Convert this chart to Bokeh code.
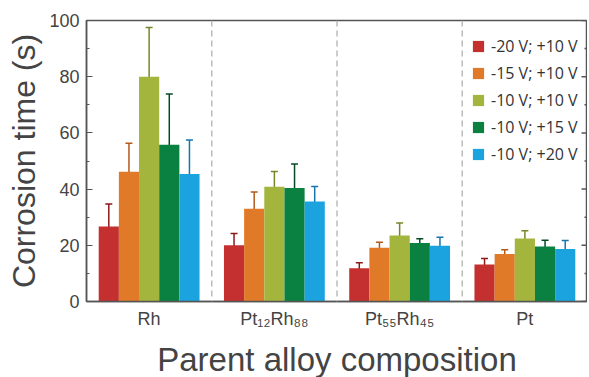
from bokeh.plotting import figure
from bokeh.models import (ColumnDataSource, Whisker, TeeHead, Span,
                          FixedTicker, Legend, LegendItem, Range1d)
from bokeh.embed import file_html
from bokeh.resources import INLINE

categories = ["Rh", "Pt₁₂Rh₈₈", "Pt₅₅Rh₄₅", "Pt"]
series = ["-20 V; +10 V", "-15 V; +10 V", "-10 V; +10 V", "-10 V; +15 V", "-10 V; +20 V"]
values = {
    "-20 V; +10 V": [26.7, 20.0, 11.8, 13.2],
    "-15 V; +10 V": [46.2, 33.0, 19.1, 16.9],
    "-10 V; +10 V": [80.0, 40.8, 23.5, 22.4],
    "-10 V; +15 V": [55.8, 40.4, 20.8, 19.6],
    "-10 V; +20 V": [45.4, 35.6, 19.8, 18.7],
}
errors = {
    "-20 V; +10 V": [8.0, 4.2, 2.0, 2.1],
    "-15 V; +10 V": [10.1, 6.0, 2.0, 1.5],
    "-10 V; +10 V": [17.5, 5.5, 4.4, 2.8],
    "-10 V; +15 V": [18.0, 8.5, 1.5, 2.2],
    "-10 V; +20 V": [12.1, 5.3, 3.1, 3.0],
}
y_ticks = [0, 20, 40, 60, 80, 100]
y_minor = [10, 30, 50, 70, 90]
bar_colors = ["#c3302f", "#e07a29", "#a4b53d", "#0a8140", "#1aa3de"]
err_colors = ["#8b1a1a", "#b5591c", "#76872a", "#064a24", "#1676ad"]

FW, FH = 501, 281
bar_w = 0.161
offsets = [-2 * bar_w, -bar_w, 0.0, bar_w, 2 * bar_w]
x_end = len(categories)

p = figure(output_backend="svg", toolbar_location=None,
           frame_width=FW, frame_height=FH,
           min_border_left=86, min_border_top=20, min_border_bottom=74,
           min_border_right=0,
           x_range=Range1d(0, x_end), y_range=Range1d(0, 100))
p.outline_line_color = "#555555"
p.outline_line_width = 1.5
p.xgrid.visible = False
p.ygrid.visible = False

items = []
for k, s in enumerate(series):
    xs = [i + 0.5 + offsets[k] for i in range(len(categories))]
    v = values[s]
    e = errors[s]
    src = ColumnDataSource(dict(x=xs, top=v,
                                upper=[a + b for a, b in zip(v, e)],
                                lower=[a - b for a, b in zip(v, e)]))
    r = p.vbar(x="x", top="top", width=bar_w, bottom=0, source=src,
               fill_color=bar_colors[k], line_color=None)
    w = Whisker(base="x", upper="upper", lower="lower", source=src,
                line_color=err_colors[k], line_width=1.5,
                upper_head=TeeHead(size=7, line_color=err_colors[k], line_width=1.5),
                lower_head=TeeHead(size=7, line_color=err_colors[k], line_width=1.5))
    p.add_layout(w)
    items.append(LegendItem(label=s, renderers=[r]))

for i in range(1, len(categories)):
    p.add_layout(Span(location=i, dimension="height", line_color="#bbbbbb",
                      line_width=1.5, line_dash="6 4"))

# inward ticks on the right frame edge
major_len = 6 / FW * x_end
minor_len = 3 / FW * x_end
p.segment(x0=[x_end] * len(y_ticks), x1=[x_end - major_len] * len(y_ticks),
          y0=y_ticks, y1=y_ticks, line_color="#555555", line_width=1.5)
p.segment(x0=[x_end] * len(y_minor), x1=[x_end - minor_len] * len(y_minor),
          y0=y_minor, y1=y_minor, line_color="#555555", line_width=1.5)

# axes
yax = p.yaxis[0]
yax.ticker = FixedTicker(ticks=y_ticks, minor_ticks=y_minor)
yax.major_tick_in = 6
yax.major_tick_out = 0
yax.minor_tick_in = 3
yax.minor_tick_out = 0
yax.axis_line_color = "#555555"
yax.axis_line_width = 1.5
yax.major_tick_line_color = "#555555"
yax.minor_tick_line_color = "#555555"
yax.major_label_text_font = "Liberation Sans"
yax.major_label_text_font_size = "18px"
yax.major_label_text_color = "#444444"
yax.major_label_standoff = 7
yax.axis_label = "Corrosion time (s)"
yax.axis_label_text_font = "Liberation Sans"
yax.axis_label_text_font_size = "32px"
yax.axis_label_text_font_style = "normal"
yax.axis_label_text_color = "#444444"
yax.axis_label_standoff = 4

xax = p.xaxis[0]
xax.ticker = FixedTicker(ticks=[i + 0.5 for i in range(len(categories))])
xax.major_label_overrides = {i + 0.5: c for i, c in enumerate(categories)}
xax.major_tick_in = 0
xax.major_tick_out = 0
xax.minor_tick_in = 0
xax.minor_tick_out = 0
xax.axis_line_color = "#555555"
xax.axis_line_width = 1.5
xax.major_label_text_font = "Liberation Sans"
xax.major_label_text_font_size = "18px"
xax.major_label_text_color = "#444444"
xax.major_label_standoff = 7
xax.axis_label = "Parent alloy composition"
xax.axis_label_text_font = "Liberation Sans"
xax.axis_label_text_font_size = "33px"
xax.axis_label_text_font_style = "normal"
xax.axis_label_text_color = "#444444"
xax.axis_label_standoff = 9

legend = Legend(items=items, location=(385, 136), orientation="vertical",
                glyph_width=14, glyph_height=14, label_height=20, spacing=5,
                label_standoff=6, padding=0, margin=0,
                label_text_font="Open Sans", label_text_font_size="16px",
                label_text_color="#333333",
                background_fill_alpha=0, border_line_color=None)
p.add_layout(legend)

open("out.html", "w").write(file_html(p, INLINE))
